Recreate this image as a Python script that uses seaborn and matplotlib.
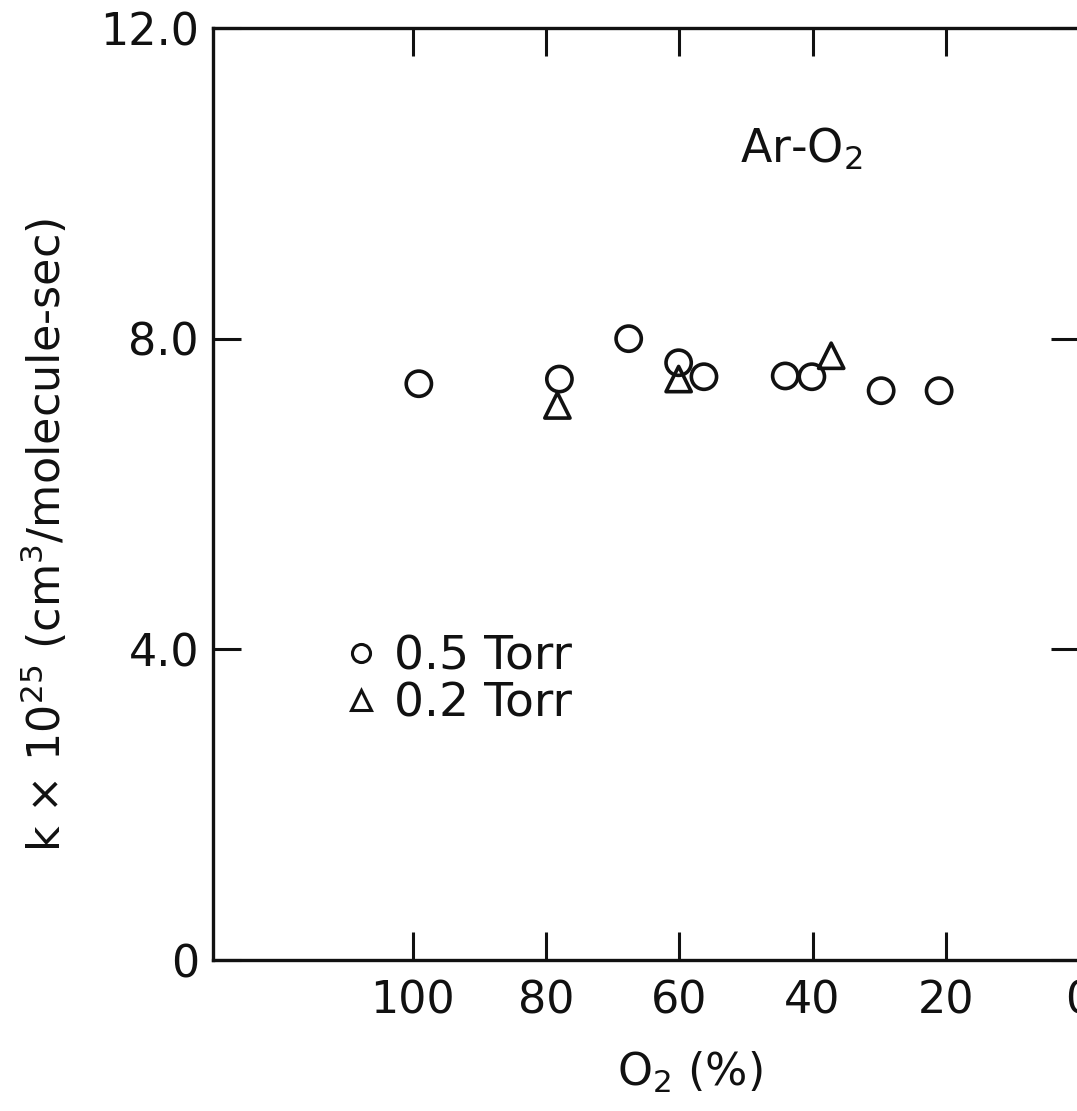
import pandas as pd
import matplotlib
matplotlib.use("Agg")
import matplotlib.pyplot as plt
import seaborn as sns
from matplotlib.lines import Line2D

# valores (O2 em %, k x 10^25)
o2_05 = [99.1, 78.0, 67.6, 60.1, 56.3, 44.1, 40.1, 29.7, 21.0]
k_05 = [7.42, 7.48, 8.00, 7.69, 7.51, 7.52, 7.51, 7.33, 7.33]
o2_02 = [78.3, 60.1, 37.2]
k_02 = [7.14, 7.48, 7.78]

pressoes = ['0.5 Torr', '0.2 Torr']
x_ticks = [100, 80, 60, 40, 20, 0]
y_ticks = [0, 4, 8, 12]
y_labels = ['0', '4.0', '8.0', '12.0']

df = pd.DataFrame({
    'o2': o2_05 + o2_02,
    'k': k_05 + k_02,
    'pressao': [pressoes[0]] * len(o2_05) + [pressoes[1]] * len(o2_02),
})

sns.set_style("white")
plt.rcParams['font.family'] = ['DejaVu Sans']
plt.rcParams['mathtext.default'] = 'regular'

preto = '#111111'

fig = plt.figure(figsize=(10.77, 11.11), dpi=100)
ax = fig.add_axes([213 / 1077, 1 - 960 / 1111, 866 / 1077, 932 / 1111])

sns.scatterplot(
    ax=ax, data=df, x='o2', y='k', style='pressao',
    markers={pressoes[0]: 'o', pressoes[1]: '^'},
    s=330, facecolors='none', edgecolor=preto, linewidth=2.6,
    legend=False, zorder=3
)

ax.set_xlim(130, 0)
ax.set_ylim(0, 12)
ax.set_xticks(x_ticks)
ax.set_xticklabels([str(v) for v in x_ticks])
ax.set_yticks(y_ticks)
ax.set_yticklabels(y_labels)
ax.tick_params(axis='both', direction='in', length=20, width=2.2, color=preto,
               left=True, bottom=True, top=True, right=True,
               labelsize=32, labelcolor=preto)
ax.tick_params(axis='x', pad=14)
ax.tick_params(axis='y', pad=10)
ax.set_xlabel('')
ax.set_ylabel('')

for lado in ['left', 'bottom', 'top', 'right']:
    ax.spines[lado].set_linewidth(2.4)
    ax.spines[lado].set_color(preto)

# legenda dentro do grafico
handles = [
    Line2D([], [], marker='o', linestyle='none', markersize=13, markerfacecolor='none',
           markeredgecolor=preto, markeredgewidth=2.2),
    Line2D([], [], marker='^', linestyle='none', markersize=15, markerfacecolor='none',
           markeredgecolor=preto, markeredgewidth=2.2),
]
ax.legend(handles, pressoes, loc='upper left', bbox_to_anchor=(0.105, 0.395), frameon=False,
          fontsize=34, handlelength=0.6, handletextpad=0.4, labelspacing=0.05,
          labelcolor=preto)

ax.text(0.679, 0.87, 'Ar-O$_2$', transform=ax.transAxes, fontsize=33,
        ha='center', va='center', color=preto)

fig.text(690 / 1077, 1 - 1072 / 1111, 'O$_2$ (%)', fontsize=32, ha='center', va='center',
         color=preto)
fig.text(45 / 1077, 1 - 535 / 1111, 'k × 10$^{25}$ (cm$^3$/molecule-sec)', fontsize=32,
         rotation=90, ha='center', va='center', color=preto)

fig.savefig('out.png', dpi=100, facecolor='white')
